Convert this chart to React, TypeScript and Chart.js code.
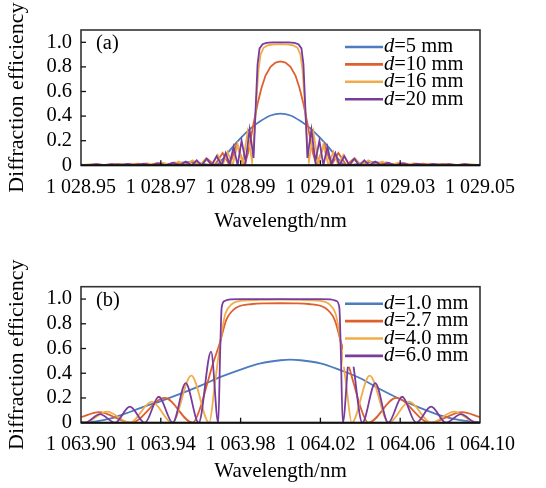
import React, { useEffect, useRef } from "react";
import { Chart, registerables } from "chart.js";

Chart.register(...registerables);

const FONT_FAMILY = "'Liberation Serif', 'Times New Roman', Times, serif";
const COLORS = ["#4C7BBE", "#DE602E", "#F0AC4A", "#783C9C"];

// ---------- shared y axis ----------
const yTickValues = [0, 0.2, 0.4, 0.6, 0.8, 1.0];
const yTickLabels = ["0", "0.2", "0.4", "0.6", "0.8", "1.0"];

// ---------- panel (a) ----------
const aTickValues = [1028.95, 1028.97, 1028.99, 1029.01, 1029.03, 1029.05];
const aTickLabels = ["1 028.95", "1 028.97", "1 028.99", "1 029.01", "1 029.03", "1 029.05"];
const aLegend = ["5 mm", "10 mm", "16 mm", "20 mm"];

const aWave5 = [1028.95, 1028.954, 1028.96175, 1028.96925, 1028.97675, 1028.98375, 1028.9855, 1028.9875, 1028.99, 1028.9925, 1028.995, 1028.9975, 1029.0, 1029.0025, 1029.005, 1029.0075, 1029.01, 1029.0125, 1029.0145, 1029.01625, 1029.02325, 1029.03075, 1029.03825, 1029.046, 1029.05];
const aEff5 = [0.003, 0, 0.01, 0, 0.026, 0, 0.05, 0.13, 0.22, 0.3, 0.36, 0.405, 0.42, 0.405, 0.36, 0.3, 0.22, 0.13, 0.05, 0, 0.026, 0, 0.01, 0, 0.003];

const aWave10 = [1028.95, 1028.95125, 1028.954, 1028.95675, 1028.95925, 1028.96175, 1028.96425, 1028.96675, 1028.969, 1028.97125, 1028.9735, 1028.97575, 1028.97775, 1028.97975, 1028.98175, 1028.9835, 1028.9855, 1028.98725, 1028.989, 1028.991, 1028.991875, 1028.9925, 1028.99325, 1028.99425, 1028.99525, 1028.99625, 1028.9975, 1028.99875, 1029.0,
  1029.00125, 1029.0025, 1029.00375, 1029.00475, 1029.00575, 1029.00675, 1029.0075, 1029.008125, 1029.009, 1029.011, 1029.01275, 1029.0145, 1029.0165, 1029.01825, 1029.02025, 1029.02225, 1029.02425, 1029.0265, 1029.02875, 1029.031, 1029.03325, 1029.03575, 1029.03825, 1029.04075, 1029.04325, 1029.046, 1029.04875, 1029.05];
const aEff10 = [0.003, 0, 0.009, 0, 0.011, 0, 0.013, 0, 0.017, 0, 0.024, 0, 0.035, 0, 0.05, 0, 0.1, 0, 0.17, 0, 0.1, 0.21, 0.34, 0.5, 0.63, 0.73, 0.8, 0.835, 0.845,
  0.835, 0.8, 0.73, 0.63, 0.5, 0.34, 0.21, 0.1, 0, 0.17, 0, 0.1, 0, 0.05, 0, 0.035, 0, 0.024, 0, 0.017, 0, 0.013, 0, 0.011, 0, 0.009, 0, 0.003];

const aWave16 = [1028.95, 1028.9525, 1028.955, 1028.9575, 1028.96, 1028.96225, 1028.9645, 1028.9665, 1028.9685, 1028.9705, 1028.9725, 1028.9745, 1028.97625, 1028.978, 1028.97975, 1028.98125, 1028.98275, 1028.98425, 1028.9855, 1028.98675, 1028.988, 1028.98925, 1028.9905, 1028.99175, 1028.992875, 1028.9935, 1028.994, 1028.9945, 1028.995, 1028.99575, 1028.99675, 1028.998, 1029.0,
  1029.002, 1029.00325, 1029.00425, 1029.005, 1029.0055, 1029.006, 1029.0065, 1029.007125, 1029.00825, 1029.0095, 1029.01075, 1029.012, 1029.01325, 1029.0145, 1029.01575, 1029.01725, 1029.01875, 1029.02025, 1029.022, 1029.02375, 1029.0255, 1029.0275, 1029.0295, 1029.0315, 1029.0335, 1029.0355, 1029.03775, 1029.04, 1029.0425, 1029.045, 1029.0475, 1029.05];
const aEff16 = [0.002, 0.009, 0, 0.011, 0, 0.013, 0, 0.017, 0, 0.022, 0, 0.03, 0, 0.04, 0, 0.055, 0, 0.085, 0, 0.11, 0, 0.17, 0.01, 0.27, 0.03, 0.28, 0.55, 0.78, 0.9, 0.955, 0.975, 0.982, 0.985,
  0.982, 0.975, 0.955, 0.9, 0.78, 0.55, 0.28, 0.03, 0.27, 0.01, 0.17, 0, 0.11, 0, 0.085, 0, 0.055, 0, 0.04, 0, 0.03, 0, 0.022, 0, 0.017, 0, 0.013, 0, 0.011, 0, 0.009, 0.002];

const aWave20 = [1028.95, 1028.95175, 1028.95375, 1028.95575, 1028.95775, 1028.95975, 1028.96175, 1028.96375, 1028.96575, 1028.96775, 1028.9695, 1028.97125, 1028.973, 1028.97475, 1028.97625, 1028.97775, 1028.979, 1028.98025, 1028.9815, 1028.98275, 1028.984, 1028.98525, 1028.98625, 1028.98725, 1028.98825, 1028.98925, 1028.99025, 1028.99125, 1028.99225, 1028.99325, 1028.99375, 1028.99425, 1028.99475, 1028.9955, 1028.9965, 1028.998, 1029.0,
  1029.002, 1029.0035, 1029.0045, 1029.00525, 1029.00575, 1029.00625, 1029.00675, 1029.00775, 1029.00875, 1029.00975, 1029.01075, 1029.01175, 1029.01275, 1029.01375, 1029.01475, 1029.016, 1029.01725, 1029.0185, 1029.01975, 1029.021, 1029.02225, 1029.02375, 1029.02525, 1029.027, 1029.02875, 1029.0305, 1029.03225, 1029.03425, 1029.03625, 1029.03825, 1029.04025, 1029.04225, 1029.04425, 1029.04625, 1029.04825, 1029.05];
const aEff20 = [0.006, 0, 0.009, 0, 0.01, 0, 0.012, 0, 0.014, 0, 0.018, 0, 0.022, 0, 0.03, 0, 0.04, 0, 0.055, 0, 0.075, 0, 0.1, 0.01, 0.15, 0, 0.2, 0.03, 0.29, 0.06, 0.45, 0.82, 0.95, 0.985, 0.995, 1.0, 1.0,
  1.0, 0.995, 0.985, 0.95, 0.82, 0.45, 0.06, 0.29, 0.03, 0.2, 0, 0.15, 0.01, 0.1, 0, 0.075, 0, 0.055, 0, 0.04, 0, 0.03, 0, 0.022, 0, 0.018, 0, 0.014, 0, 0.012, 0, 0.01, 0, 0.009, 0, 0.006];

// ---------- panel (b) ----------
const bTickValues = [1063.9, 1063.94, 1063.98, 1064.02, 1064.06, 1064.1];
const bTickLabels = ["1 063.90", "1 063.94", "1 063.98", "1 064.02", "1 064.06", "1 064.10"];
const bLegend = ["1.0 mm", "2.7 mm", "4.0 mm", "6.0 mm"];

const bWave10 = [1063.9, 1063.9075, 1063.915, 1063.9225, 1063.93, 1063.94, 1063.95, 1063.96, 1063.97, 1063.98, 1063.99, 1064.0, 1064.005, 1064.01, 1064.02, 1064.03, 1064.04, 1064.05, 1064.06, 1064.07, 1064.08, 1064.09, 1064.1];
const bEff10 = [0.0, 0.01, 0.035, 0.075, 0.12, 0.175, 0.235, 0.3, 0.37, 0.43, 0.48, 0.505, 0.51, 0.505, 0.48, 0.425, 0.36, 0.27, 0.19, 0.12, 0.06, 0.02, 0.004];

const bWave27 = [1063.9, 1063.909, 1063.9251, 1063.942, 1063.956, 1063.96, 1063.963, 1063.9662, 1063.9695, 1063.9728, 1063.9778, 1063.986, 1063.993, 1064.0, 1064.007, 1064.014, 1064.0222, 1064.0272, 1064.0305, 1064.0338, 1064.037, 1064.04, 1064.044, 1064.058, 1064.0749, 1064.091, 1064.1];
const bEff27 = [0.045, 0.085, 0, 0.2, 0, 0.13, 0.3, 0.48, 0.64, 0.83, 0.93, 0.96, 0.965, 0.966, 0.965, 0.96, 0.93, 0.83, 0.64, 0.48, 0.3, 0.13, 0, 0.2, 0, 0.085, 0.045];

const bWave40 = [1063.9, 1063.902, 1063.913, 1063.9245, 1063.9355, 1063.9457, 1063.9553, 1063.9643, 1063.967, 1063.9695, 1063.972, 1063.975, 1063.98, 1063.99, 1064.0, 1064.01, 1064.02, 1064.025, 1064.028, 1064.0305, 1064.033, 1064.0357, 1064.0447, 1064.0543, 1064.0645, 1064.0755, 1064.087, 1064.098, 1064.1];
const bEff40 = [0.01, 0, 0.09, 0, 0.17, 0, 0.38, 0, 0.3, 0.61, 0.86, 0.95, 0.985, 0.993, 0.995, 0.993, 0.985, 0.95, 0.86, 0.61, 0.3, 0, 0.38, 0, 0.17, 0, 0.09, 0, 0.01];

const bWave60 = [1063.9, 1063.902, 1063.9095, 1063.917, 1063.9245, 1063.932, 1063.939, 1063.946, 1063.9525, 1063.959, 1063.9652, 1063.9688, 1063.9698, 1063.9705, 1063.972, 1063.975, 1063.98, 1064.0,
  1064.02, 1064.025, 1064.028, 1064.0295, 1064.0302, 1064.0312, 1064.0348, 1064.041, 1064.0475, 1064.054, 1064.061, 1064.068, 1064.0755, 1064.083, 1064.0905, 1064.098, 1064.1];
const bEff60 = [0.005, 0, 0.07, 0, 0.13, 0, 0.21, 0, 0.32, 0, 0.575, 0, 0.6, 0.93, 0.985, 0.998, 1.0, 1.0,
  1.0, 0.998, 0.985, 0.93, 0.6, 0, 0.575, 0, 0.32, 0, 0.21, 0, 0.13, 0, 0.07, 0, 0.005];

type Series = { x: number[]; y: number[]; smooth: boolean };

type PanelSpec = {
  tag: string;
  xMin: number;
  xMax: number;
  xTicks: number[];
  xTickLabels: string[];
  legend: string[];
  series: Series[];
  canvasHeight: number;
  padTop: number;
  xAxisHeight: number;
  xTickPad: number;
  xTitlePadBottom: number;
};

const panelA: PanelSpec = {
  tag: "(a)",
  xMin: 1028.95,
  xMax: 1029.05,
  xTicks: aTickValues,
  xTickLabels: aTickLabels,
  legend: aLegend,
  series: [
    { x: aWave5, y: aEff5, smooth: true },
    { x: aWave10, y: aEff10, smooth: false },
    { x: aWave16, y: aEff16, smooth: false },
    { x: aWave20, y: aEff20, smooth: false },
  ],
  canvasHeight: 240,
  padTop: 30,
  xAxisHeight: 74.7,
  xTickPad: 10.5,
  xTitlePadBottom: 6,
};

const panelB: PanelSpec = {
  tag: "(b)",
  xMin: 1063.9,
  xMax: 1064.1,
  xTicks: bTickValues,
  xTickLabels: bTickLabels,
  legend: bLegend,
  series: [
    { x: bWave10, y: bEff10, smooth: true },
    { x: bWave27, y: bEff27, smooth: true },
    { x: bWave40, y: bEff40, smooth: true },
    { x: bWave60, y: bEff60, smooth: true },
  ],
  canvasHeight: 238,
  padTop: 36.7,
  xAxisHeight: 65.3,
  xTickPad: 10.5,
  xTitlePadBottom: 3.5,
};

function makeDecor(spec: PanelSpec) {
  return {
    id: "decor",
    afterDatasetsDraw(chart: any) {
      const { ctx, chartArea: a, scales } = chart;
      ctx.save();
      // legend with white background
      ctx.fillStyle = "#ffffff";
      ctx.fillRect(a.left + 262, a.top + 6, 136, 74);
      const x1 = a.left + 264;
      const x2 = a.left + 302;
      spec.legend.forEach((lab, i) => {
        const y = a.top + 17 + i * 17.4;
        ctx.strokeStyle = COLORS[i];
        ctx.lineWidth = 2.6;
        ctx.beginPath();
        ctx.moveTo(x1, y);
        ctx.lineTo(x2, y);
        ctx.stroke();
        ctx.fillStyle = "#000";
        ctx.textBaseline = "middle";
        ctx.textAlign = "left";
        ctx.font = `italic 20.5px ${FONT_FAMILY}`;
        ctx.fillText("d", x2 + 1, y);
        const w = ctx.measureText("d").width;
        ctx.font = `20.5px ${FONT_FAMILY}`;
        ctx.fillText("=" + lab, x2 + 1 + w, y);
      });
      // panel tag
      ctx.fillStyle = "#000";
      ctx.font = `20.5px ${FONT_FAMILY}`;
      ctx.textAlign = "left";
      ctx.textBaseline = "middle";
      ctx.fillText(spec.tag, a.left + 15, a.top + 14);
      // frame
      ctx.strokeStyle = "#333";
      ctx.lineWidth = 1.6;
      ctx.strokeRect(a.left, a.top, a.right - a.left, a.bottom - a.top);
      ctx.strokeStyle = "#111";
      ctx.lineWidth = 2;
      ctx.beginPath();
      ctx.moveTo(a.left, a.bottom);
      ctx.lineTo(a.right, a.bottom);
      ctx.stroke();
      // inward ticks
      ctx.lineWidth = 1.3;
      ctx.strokeStyle = "#111";
      spec.xTicks.slice(1, -1).forEach((v) => {
        const px = scales.x.getPixelForValue(v);
        ctx.beginPath();
        ctx.moveTo(px, a.bottom);
        ctx.lineTo(px, a.bottom - 5);
        ctx.stroke();
      });
      yTickValues.slice(1).forEach((v) => {
        const py = scales.y.getPixelForValue(v);
        ctx.beginPath();
        ctx.moveTo(a.left, py);
        ctx.lineTo(a.left + 5, py);
        ctx.stroke();
      });
      ctx.restore();
    },
  };
}

function makeConfig(spec: PanelSpec): any {
  const datasets = spec.series.map((s, i) => ({
    label: spec.legend[i],
    data: s.x.map((x, k) => ({ x, y: s.y[k] })),
    borderColor: COLORS[i],
    backgroundColor: COLORS[i],
    borderWidth: 1.8,
    pointRadius: 0,
    fill: false,
    tension: 0,
    cubicInterpolationMode: s.smooth ? "monotone" : "default",
    order: 3 - i,
  }));
  return {
    type: "line",
    data: { datasets },
    plugins: [makeDecor(spec)],
    options: {
      animation: false,
      responsive: false,
      devicePixelRatio: 1,
      events: [],
      layout: { padding: { left: 0, right: 66, top: spec.padTop, bottom: 0 } },
      plugins: { legend: { display: false }, tooltip: { enabled: false } },
      scales: {
        x: {
          type: "linear",
          min: spec.xMin,
          max: spec.xMax,
          afterBuildTicks: (s: any) => {
            s.ticks = spec.xTicks.map((v) => ({ value: v }));
          },
          afterFit: (s: any) => {
            s.height = spec.xAxisHeight;
          },
          grid: { display: false, drawTicks: false },
          border: { display: false },
          ticks: {
            autoSkip: false,
            maxRotation: 0,
            minRotation: 0,
            padding: spec.xTickPad,
            color: "#000",
            font: { family: FONT_FAMILY, size: 20 },
            callback: (_v: any, i: number) => spec.xTickLabels[i],
          },
          title: {
            display: true,
            text: "Wavelength/nm",
            color: "#000",
            font: { family: FONT_FAMILY, size: 21 },
            padding: { top: 0, bottom: spec.xTitlePadBottom },
          },
        },
        y: {
          type: "linear",
          min: 0,
          max: 1.1,
          afterBuildTicks: (s: any) => {
            s.ticks = yTickValues.map((v) => ({ value: v }));
          },
          afterFit: (s: any) => {
            s.width = 81;
          },
          grid: { display: false, drawTicks: false },
          border: { display: false },
          ticks: {
            autoSkip: false,
            padding: 9,
            color: "#000",
            font: { family: FONT_FAMILY, size: 20.5 },
            callback: (_v: any, i: number) => yTickLabels[i],
          },
          title: {
            display: true,
            text: "Diffraction efficiency",
            color: "#000",
            font: { family: FONT_FAMILY, size: 22 },
            padding: { top: 3.8, bottom: 0 },
          },
        },
      },
    },
  };
}

function Panel({ spec, top }: { spec: PanelSpec; top: number }) {
  const ref = useRef<HTMLCanvasElement | null>(null);
  useEffect(() => {
    if (!ref.current) return;
    const chart = new Chart(ref.current, makeConfig(spec));
    return () => chart.destroy();
  }, [spec]);
  return (
    <canvas
      ref={ref}
      width={546}
      height={spec.canvasHeight}
      style={{ position: "absolute", left: 0, top, width: 546, height: spec.canvasHeight, display: "block" }}
    />
  );
}

export default function App() {
  return (
    <div style={{ position: "absolute", left: 0, top: 0, width: 546, height: 488, background: "#fff", overflow: "hidden" }}>
      <Panel spec={panelA} top={0} />
      <Panel spec={panelB} top={250} />
    </div>
  );
}
